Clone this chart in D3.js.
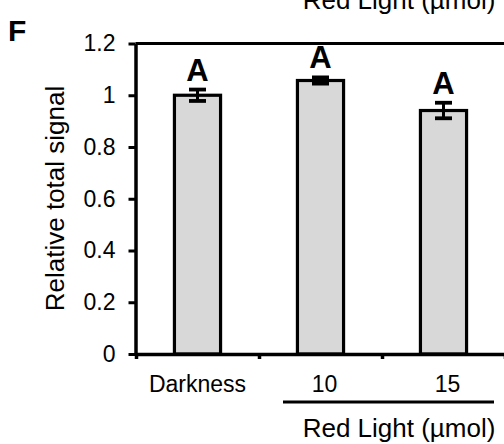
<!DOCTYPE html>
<html>
<head>
<meta charset="utf-8">
<script src="https://cdn.jsdelivr.net/npm/d3@7"></script>
<style>
    body { margin: 0; background: #fff; }
    text { font-family: "Liberation Sans", Arial, sans-serif; fill: #000; }
</style>
</head>
<body>
<div id="chart"></div>
<script>
// data
let categories = ['Darkness', '10', '15'];
let values = [1.0, 1.057, 0.941];
let errors = [0.022, 0.012, 0.03];
let letters = ['A', 'A', 'A'];
let yTicks = [0, 0.2, 0.4, 0.6, 0.8, 1, 1.2];

let width = 504, height = 444;
let margin = {top: 43.5, left: 135.5};

let svg = d3.select('#chart').append('svg')
    .attr('width', width)
    .attr('height', height);

// scales
let y = d3.scaleLinear()
    .domain([0, 1.2])
    .range([354, 43.5]);

let x = d3.scaleBand()
    .domain(categories)
    .range([136, 505])
    .padding(0);

let xEdge = d3.scaleLinear()
    .domain([0, categories.length])
    .range([136, 505]);

let barWidth = x.bandwidth() * 0.375;

// plot area top border
svg.append('line')
    .attr('x1', margin.left)
    .attr('x2', width + 2)
    .attr('y1', y(1.2))
    .attr('y2', y(1.2))
    .attr('stroke', '#000')
    .attr('stroke-width', 3);

// bars
svg.selectAll('.bar').data(values)
    .enter().append('rect')
    .attr('class', 'bar')
    .attr('x', (d, i) => x(categories[i]) + x.bandwidth() / 2 - barWidth / 2)
    .attr('width', barWidth)
    .attr('y', d => y(d))
    .attr('height', d => y(0) - y(d))
    .attr('fill', '#d8d8d8')
    .attr('stroke', '#000')
    .attr('stroke-width', 3.2);

// error bars
let err = svg.selectAll('.err').data(values)
    .enter().append('g')
    .attr('class', 'err')
    .attr('transform', (d, i) => `translate(${x(categories[i]) + x.bandwidth() / 2}, 0)`);

err.append('line')
    .attr('y1', (d, i) => y(d - errors[i]))
    .attr('y2', (d, i) => y(d + errors[i]))
    .attr('stroke', '#000')
    .attr('stroke-width', 3);

err.selectAll('.cap')
    .data((d, i) => [d - errors[i], d + errors[i]])
    .enter().append('line')
    .attr('class', 'cap')
    .attr('x1', -8.5).attr('x2', 8.5)
    .attr('y1', d => y(d)).attr('y2', d => y(d))
    .attr('stroke', '#000')
    .attr('stroke-width', 3.8);

// significance letters
svg.selectAll('.letter').data(values)
    .enter().append('text')
    .attr('class', 'letter')
    .attr('x', (d, i) => x(categories[i]) + x.bandwidth() / 2)
    .attr('y', (d, i) => y(d + errors[i]) - 9)
    .attr('text-anchor', 'middle')
    .style('font-size', '31px')
    .style('font-weight', 'bold')
    .text((d, i) => letters[i]);

// y axis
let yAxis = d3.axisLeft(y)
    .tickValues(yTicks)
    .tickFormat(d3.format('~g'))
    .tickSize(7)
    .tickSizeOuter(0)
    .tickPadding(13);

let yAxisGroup = svg.append('g')
    .attr('transform', `translate(${margin.left}, 0)`)
    .call(yAxis);

yAxisGroup.select('.domain').attr('stroke-width', 3.5);
yAxisGroup.selectAll('.tick line').attr('stroke-width', 3);
yAxisGroup.selectAll('.tick text')
    .style('font-size', '23px')
    .style('font-family', '"Liberation Sans", Arial, sans-serif');

// x axis: ticks between categories
let xAxis = d3.axisBottom(xEdge)
    .tickValues(d3.range(categories.length + 1))
    .tickFormat('')
    .tickSize(5)
    .tickSizeOuter(0);

let xAxisGroup = svg.append('g')
    .attr('transform', `translate(0, ${y(0)})`)
    .call(xAxis);

xAxisGroup.select('.domain').attr('stroke-width', 3.5);
xAxisGroup.selectAll('.tick line').attr('stroke-width', 3.5);

// category labels
svg.selectAll('.xlabel').data(categories)
    .enter().append('text')
    .attr('class', 'xlabel')
    .attr('x', d => x(d) + x.bandwidth() / 2 + (d === 'Darkness' ? 0 : 4))
    .attr('y', 392)
    .attr('text-anchor', 'middle')
    .style('font-size', '23px')
    .text(d => d);

// group underline for the light treatments
svg.append('line')
    .attr('x1', 283).attr('x2', 494)
    .attr('y1', 402).attr('y2', 402)
    .attr('stroke', '#000')
    .attr('stroke-width', 3);

svg.append('text')
    .attr('x', 399)
    .attr('y', 437)
    .attr('text-anchor', 'middle')
    .style('font-size', '26px')
    .text('Red Light (µmol)');

// cut-off label from the panel above
svg.append('text')
    .attr('x', 399)
    .attr('y', 9)
    .attr('text-anchor', 'middle')
    .style('font-size', '26px')
    .text('Red Light (µmol)');

// y axis title
svg.append('text')
    .attr('transform', `translate(64, 198.5) rotate(-90)`)
    .attr('text-anchor', 'middle')
    .style('font-size', '26px')
    .text('Relative total signal');

// panel letter
svg.append('text')
    .attr('x', 8)
    .attr('y', 41)
    .style('font-size', '30px')
    .style('font-weight', 'bold')
    .text('F');
</script>
</body>
</html>
